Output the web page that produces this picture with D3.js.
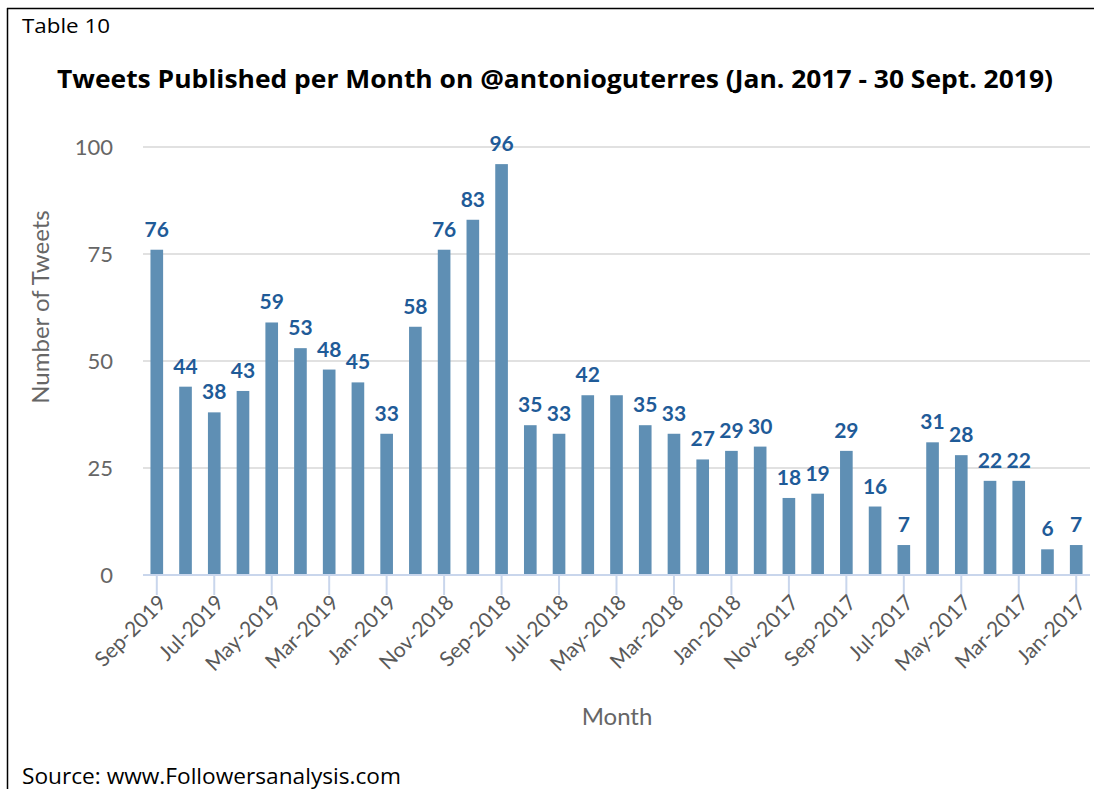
<!DOCTYPE html>
<html>
<head>
<meta charset="utf-8">
<script src="https://cdn.jsdelivr.net/npm/d3@7"></script>
<style>
  body { margin: 0; background: #fff; }
  svg { display: block; }
</style>
</head>
<body>
<div id="chart"></div>
<script>
// months, newest first (as in the source)
var months = ["Sep-2019","Aug-2019","Jul-2019","Jun-2019","May-2019","Apr-2019","Mar-2019","Feb-2019","Jan-2019",
  "Dec-2018","Nov-2018","Oct-2018","Sep-2018","Aug-2018","Jul-2018","Jun-2018","May-2018","Apr-2018","Mar-2018",
  "Feb-2018","Jan-2018","Dec-2017","Nov-2017","Oct-2017","Sep-2017","Aug-2017","Jul-2017","Jun-2017","May-2017",
  "Apr-2017","Mar-2017","Feb-2017","Jan-2017"];
var tweets = [76,44,38,43,59,53,48,45,33,58,76,83,96,35,33,42,42,35,33,27,29,30,18,19,29,16,7,31,28,22,22,6,7];
var yTicks = [0,25,50,75,100];
// the label of May-2018 overlaps Jun-2018 and is not shown in the source
var hiddenLabels = ["May-2018"];

var width = 1094, height = 789;

var svg = d3.select('#chart').append('svg')
    .attr('width', width)
    .attr('height', height);

// frame
svg.append('line').attr('x1', 7.5).attr('x2', 7.5).attr('y1', 8).attr('y2', height)
    .attr('stroke', '#000').attr('stroke-width', 1.5);
svg.append('line').attr('x1', 7).attr('x2', width).attr('y1', 8.5).attr('y2', 8.5)
    .attr('stroke', '#000').attr('stroke-width', 1.5);

svg.append('text')
    .attr('x', 22).attr('y', 33)
    .style('font-family', 'Open Sans, sans-serif')
    .style('font-size', '20px')
    .attr('textLength', 88).attr('lengthAdjust', 'spacingAndGlyphs')
    .attr('fill', '#000')
    .text('Table 10');

svg.append('text')
    .attr('x', 57).attr('y', 88)
    .style('font-family', 'Open Sans, sans-serif')
    .style('font-size', '25px')
    .style('font-weight', 'bold')
    .attr('textLength', 996).attr('lengthAdjust', 'spacingAndGlyphs')
    .attr('fill', '#000')
    .text('Tweets Published per Month on @antonioguterres (Jan. 2017 - 30 Sept. 2019)');

svg.append('text')
    .attr('x', 22).attr('y', 784)
    .style('font-family', 'Open Sans, sans-serif')
    .style('font-size', '21px')
    .attr('textLength', 379).attr('lengthAdjust', 'spacingAndGlyphs')
    .attr('fill', '#000')
    .text('Source: www.Followersanalysis.com');

var x = d3.scaleBand()
    .domain(months)
    .range([143, 1090])
    .paddingInner(0.56)
    .paddingOuter(0.26);

var y = d3.scaleLinear()
    .domain([0, 100])
    .range([575, 147]);

var g = svg.append('g');

// gridlines
g.selectAll('.grid')
    .data(yTicks.filter(function (d) { return d > 0; }))
    .enter().append('line')
    .attr('class', 'grid')
    .attr('x1', 143).attr('x2', 1090)
    .attr('y1', function (d) { return y(d); })
    .attr('y2', function (d) { return y(d); })
    .attr('stroke', '#e1e1e1')
    .attr('stroke-width', 2);

// y axis labels
var yAxis = g.append('g')
    .attr('transform', 'translate(143,0)')
    .call(d3.axisLeft(y).tickValues(yTicks).tickSize(0).tickPadding(30));
yAxis.select('.domain').remove();
yAxis.selectAll('text')
    .style('font-family', 'Lato, sans-serif')
    .style('font-size', '22px')
    .attr('fill', '#666')
    .attr('dy', '0.35em');

// bars
g.selectAll('.bar')
    .data(months)
    .enter().append('rect')
    .attr('class', 'bar')
    .attr('x', function (d) { return x(d); })
    .attr('width', x.bandwidth())
    .attr('y', function (d, i) { return y(tweets[i]); })
    .attr('height', function (d, i) { return y(0) - y(tweets[i]); })
    .attr('fill', '#5f8fb4');

// x axis
var xAxis = g.append('g')
    .attr('transform', 'translate(0,' + y(0) + ')')
    .call(d3.axisBottom(x)
        .tickValues(months.filter(function (d, i) { return i % 2 === 0; }))
        .tickSize(20)
        .tickSizeOuter(0)
        .tickPadding(4));
xAxis.select('.domain')
    .attr('stroke', '#c9d6ec')
    .attr('stroke-width', 2)
    .attr('d', 'M143,0H1090');
xAxis.selectAll('.tick line')
    .attr('stroke', '#c9d6ec')
    .attr('stroke-width', 2);
xAxis.selectAll('.tick text')
    .style('font-family', 'Lato, sans-serif')
    .style('font-size', '21px')
    .attr('fill', '#595959')
    .style('text-anchor', 'end')
    .attr('dy', '0.6em')
    .attr('transform', 'translate(2,20) rotate(-45)')
    .attr('y', 0);

// value labels
g.selectAll('.label')
    .data(months.filter(function (d) { return hiddenLabels.indexOf(d) < 0; }))
    .enter().append('text')
    .attr('class', 'label')
    .attr('x', function (d) { return x(d) + x.bandwidth() / 2; })
    .attr('y', function (d) { return y(tweets[months.indexOf(d)]) - 13; })
    .attr('text-anchor', 'middle')
    .style('font-family', 'Lato, sans-serif')
    .style('font-size', '21px')
    .style('font-weight', 'bold')
    .attr('fill', '#1f5b98')
    .text(function (d) { return tweets[months.indexOf(d)]; });

// axis titles
svg.append('text')
    .attr('transform', 'translate(49,307) rotate(-90)')
    .attr('text-anchor', 'middle')
    .style('font-family', 'Lato, sans-serif')
    .style('font-size', '24px')
    .attr('fill', '#666')
    .text('Number of Tweets');

svg.append('text')
    .attr('x', 617).attr('y', 725)
    .attr('text-anchor', 'middle')
    .style('font-family', 'Lato, sans-serif')
    .style('font-size', '24px')
    .attr('fill', '#666')
    .text('Month');
</script>
</body>
</html>
